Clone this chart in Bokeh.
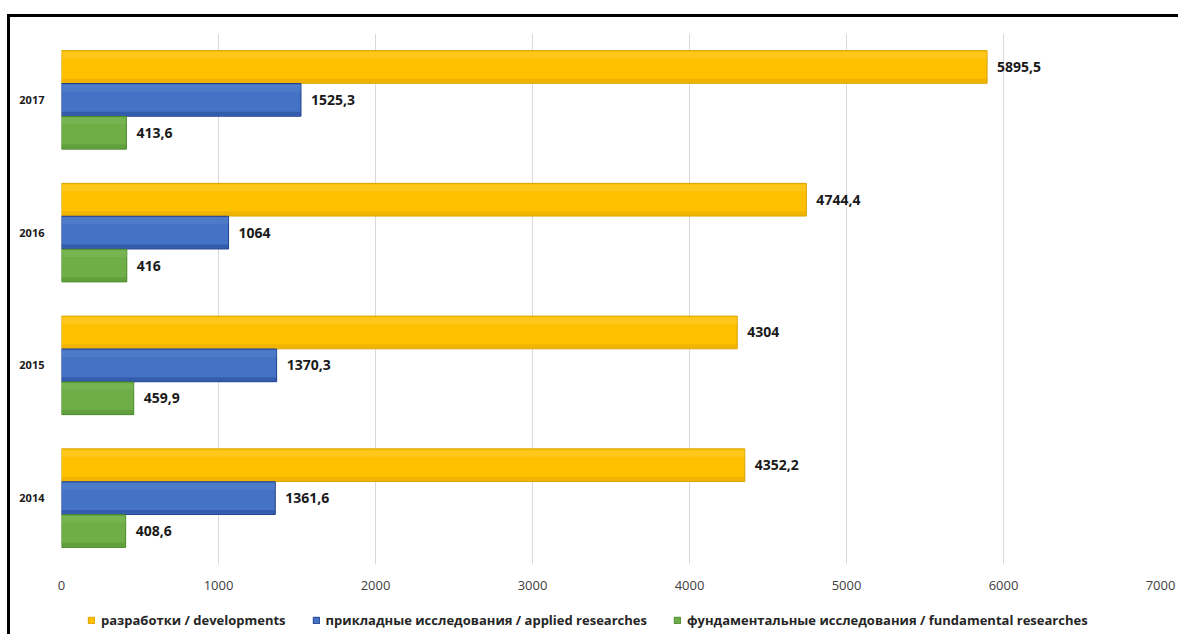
from bokeh.plotting import figure
from bokeh.layouts import column
from bokeh.models import (FactorRange, Range1d, ColumnDataSource, Legend, LegendItem, FixedTicker)
from bokeh.transform import dodge
from bokeh.core.properties import value
from bokeh.embed import file_html
from bokeh.resources import INLINE

# ---- data ----
years = ["2014", "2015", "2016", "2017"]
developments = [4352.2, 4304, 4744.4, 5895.5]
applied = [1361.6, 1370.3, 1064, 1525.3]
fundamental = [408.6, 459.9, 416, 413.6]
series_labels = ["разработки / developments",
                 "прикладные исследования / applied researches",
                 "фундаментальные исследования / fundamental researches"]
x_ticks = [0, 1000, 2000, 3000, 4000, 5000, 6000, 7000]


def fmt(v):
    return ("%g" % v).replace(".", ",")


W = 1168
FONT = "Open Sans"

p = figure(width=W, height=577, output_backend="svg", toolbar_location=None,
           y_range=FactorRange(*years, range_padding=0),
           x_range=Range1d(0, 7000),
           min_border_left=51, min_border_right=18, min_border_top=16, min_border_bottom=30)
p.outline_line_color = None
p.background_fill_color = "white"
p.border_fill_color = "white"

series = [
    (developments, 0.248, "#FFC000", "#D9A300", "#FFD24D"),
    (applied, 0.0, "#4472C4", "#1F3D8C", "#628BD4"),
    (fundamental, -0.248, "#6FAD47", "#4A8A2C", "#88BF64"),
]
BH = 0.246
sources = []
for vals, off, col, dark, light in series:
    src = ColumnDataSource(dict(year=years, val=vals, lab=[fmt(v) for v in vals]))
    sources.append(src)
    p.hbar(y=dodge("year", off, range=p.y_range), right="val", left=0, height=BH,
           source=src, fill_color=col, line_color=dark, line_width=1)
    # subtle gradient look: lighter top, darker bottom edge
    p.hbar(y=dodge("year", off + BH * 0.36, range=p.y_range), right="val", left=0,
           height=BH * 0.2, source=src, fill_color=light, fill_alpha=0.35, line_color=None)
    p.hbar(y=dodge("year", off - BH * 0.42, range=p.y_range), right="val", left=0,
           height=BH * 0.12, source=src, fill_color=dark, fill_alpha=0.4, line_color=None)
    p.text(x="val", y=dodge("year", off, range=p.y_range), text="lab", source=src,
           x_offset=10, text_baseline="middle", text_align="left",
           text_font=value(FONT), text_font_style="bold", text_font_size="14px",
           text_color="#1a1a1a")

# axes
p.xaxis.ticker = FixedTicker(ticks=x_ticks)
p.xaxis.axis_line_color = None
p.xaxis.major_tick_line_color = None
p.xaxis.minor_tick_line_color = None
p.xaxis.major_label_standoff = 10
p.xaxis.major_label_text_font = FONT
p.xaxis.major_label_text_font_size = "13px"
p.xaxis.major_label_text_color = "#404040"

p.yaxis.axis_line_color = None
p.yaxis.major_tick_line_color = None
p.yaxis.minor_tick_line_color = None
p.yaxis.major_label_standoff = 11
p.yaxis.major_label_text_font = FONT
p.yaxis.major_label_text_font_size = "11px"
p.yaxis.major_label_text_font_style = "bold"
p.yaxis.major_label_text_color = "#1a1a1a"

p.xgrid.grid_line_color = "#D9D9D9"
p.ygrid.grid_line_color = None

# ---- legend strip below the chart ----
lf = figure(width=W, height=40, output_backend="svg", toolbar_location=None,
            x_range=Range1d(0, 1), y_range=Range1d(0, 1),
            min_border_left=0, min_border_right=0, min_border_top=0, min_border_bottom=0)
lf.axis.visible = False
lf.grid.grid_line_color = None
lf.outline_line_color = None
lf.border_fill_color = "white"
lf.background_fill_color = "white"
lrs = []
for (vals, off, col, dark, light), src in zip(series, sources):
    # hidden legend-only renderers: only their legend swatches are drawn
    lrs.append(lf.hbar(y="val", right="val", left=0, height=1, source=src, visible=False,
                       fill_color=col, line_color=dark, line_width=1))
legend = Legend(items=[LegendItem(label=series_labels[i], renderers=[lrs[i]]) for i in range(3)],
                orientation="horizontal", location=(26, 5), click_policy="none",
                inactive_fill_alpha=0,
                glyph_width=8, glyph_height=8, label_standoff=6, spacing=26,
                padding=4, margin=0, border_line_color=None, background_fill_alpha=0,
                label_text_font=FONT, label_text_font_size="13px", label_text_font_style="bold",
                label_text_color="#262626", label_height=16)
lf.add_layout(legend, "center")

layout = column(p, lf, spacing=0)
layout.styles = {"margin-left": "7px", "margin-top": "14px",
                 "border-top": "3px solid black", "border-left": "3px solid black"}

open("out.html", "w").write(file_html(layout, INLINE))
